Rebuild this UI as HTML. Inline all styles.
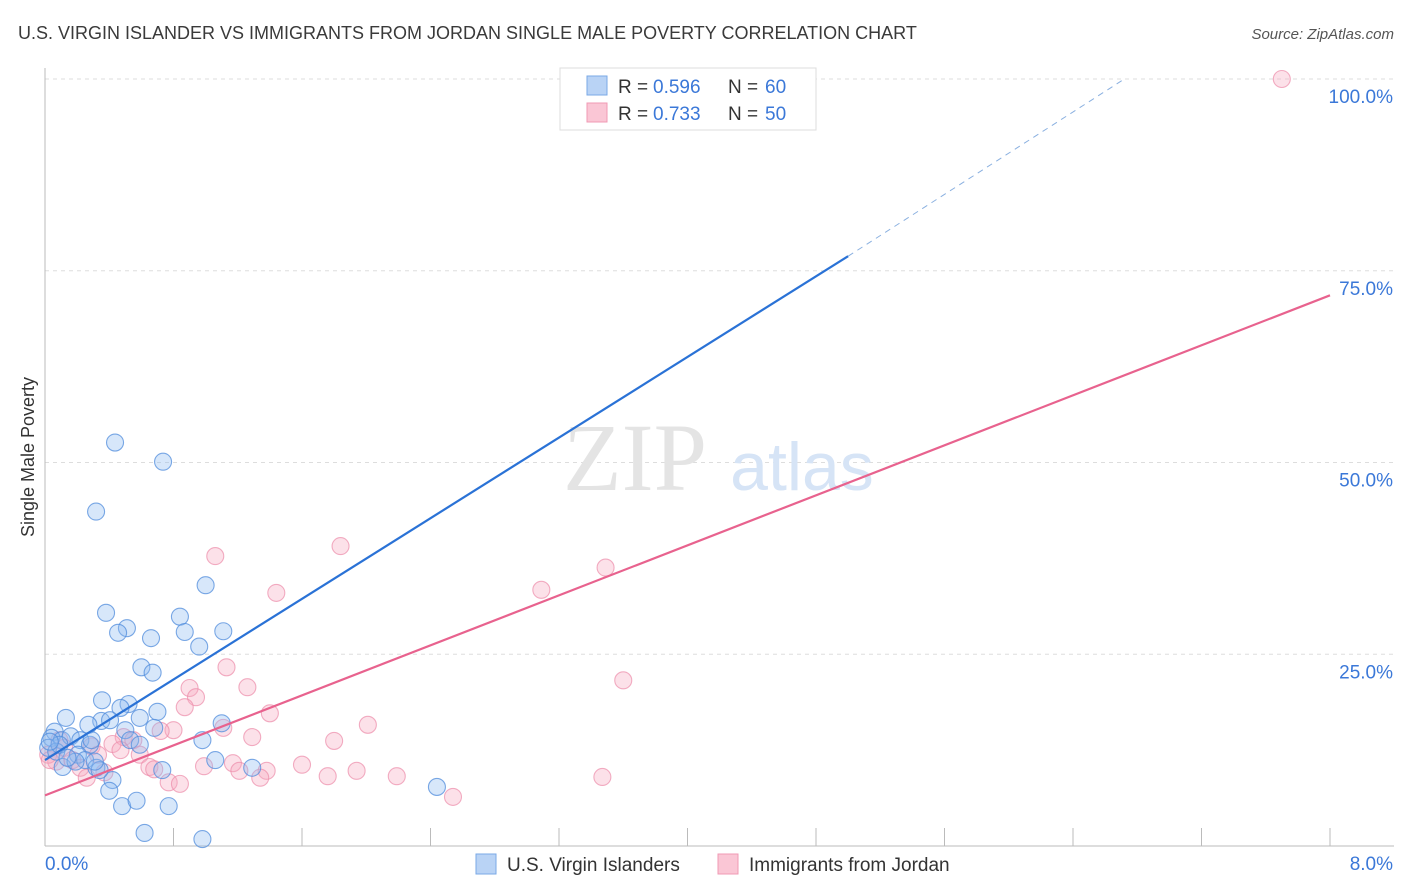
<!DOCTYPE html>
<html><head><meta charset="utf-8">
<style>
body{margin:0;background:#fff;font-family:"Liberation Sans",sans-serif;}
#wrap{position:relative;width:1406px;height:892px;overflow:hidden;}
</style></head>
<body>
<div id="wrap">
<svg id="svg" width="1406" height="892" xmlns="http://www.w3.org/2000/svg">
<text x="18" y="39" font-size="18" fill="#3a3a3a">U.S. VIRGIN ISLANDER VS IMMIGRANTS FROM JORDAN SINGLE MALE POVERTY CORRELATION CHART</text>
<text x="1394" y="39" font-size="15" fill="#555" font-style="italic" text-anchor="end">Source: ZipAtlas.com</text>
<text x="34" y="457" font-size="18" fill="#333" text-anchor="middle" transform="rotate(-90 34 457)">Single Male Poverty</text>
<g id="grid"></g>
<text x="635" y="490" font-size="96" fill="#e4e4e4" font-family="Liberation Serif,serif" text-anchor="middle">ZIP</text>
<text x="802" y="490" font-size="68" fill="#d6e4f6" text-anchor="middle">atlas</text>
<g id="marks"></g>
<g>
<rect x="560" y="68" width="256" height="62" fill="#fff" stroke="#ddd"/>
<rect x="587" y="76" width="20" height="19" fill="#b9d3f5" stroke="#7aa8e6"/>
<text x="618" y="93" font-size="19" fill="#333">R = </text>
<text x="653" y="93" font-size="19" fill="#3b78d8">0.596</text>
<text x="728" y="93" font-size="19" fill="#333">N = </text>
<text x="765" y="93" font-size="19" fill="#3b78d8">60</text>
<rect x="587" y="103" width="20" height="19" fill="#fac6d5" stroke="#f09ab4"/>
<text x="618" y="120" font-size="19" fill="#333">R = </text>
<text x="653" y="120" font-size="19" fill="#3b78d8">0.733</text>
<text x="728" y="120" font-size="19" fill="#333">N = </text>
<text x="765" y="120" font-size="19" fill="#3b78d8">50</text>
</g>
<g>
<rect x="476" y="854" width="20" height="20" fill="#b9d3f5" stroke="#7aa8e6"/>
<text x="507" y="871" font-size="19" fill="#333">U.S. Virgin Islanders</text>
<rect x="718" y="854" width="20" height="20" fill="#fac6d5" stroke="#f09ab4"/>
<text x="749" y="871" font-size="19" fill="#333">Immigrants from Jordan</text>
</g>
<text x="45" y="870" font-size="19" fill="#3b78d8">0.0%</text>
<text x="1393" y="870" font-size="19" fill="#3b78d8" text-anchor="end">8.0%</text>
</svg>
</div>
<script>
const yTicks=[25,50,75,100];
const yTickLabels=["25.0%","50.0%","75.0%","100.0%"];
const xTicks=[0,0.8,1.6,2.4,3.2,4.0,4.8,5.6,6.4,7.2,8.0];
const blueX=[0.436,0.735,0.318,1.00,0.38,0.84,0.51,0.455,0.87,1.11,0.66,0.96,0.60,0.67,0.355,0.52,0.47,0.70,0.13,0.35,0.405,0.59,0.27,1.10,0.06,0.04,0.105,0.16,0.22,0.28,0.50,0.68,0.98,0.02,0.205,0.25,0.11,0.32,0.42,0.40,0.73,1.06,1.29,2.44,0.48,0.57,0.77,0.62,0.98,4.59,0.07,0.29,0.34,0.19,0.53,0.09,0.31,0.14,0.59,0.03];
const blueY=[52.6,50.1,43.6,34.0,30.4,29.9,28.4,27.8,27.9,28.0,27.1,26.0,23.3,22.6,19.0,18.5,18.0,17.5,16.7,16.3,16.4,16.7,15.8,16.0,14.9,14.1,13.8,14.3,13.8,13.2,15.1,15.4,13.8,12.8,11.9,11.2,10.3,10.2,8.6,7.2,9.9,11.2,10.2,7.7,5.2,5.9,5.2,1.7,0.9,100,12.3,13.8,9.9,11.0,13.8,13.2,11.0,11.5,13.2,13.6];
const pinkX=[7.70,1.84,1.06,3.49,3.09,1.44,1.13,3.60,1.26,0.90,0.94,0.87,1.40,2.01,1.11,0.80,0.72,1.29,1.80,0.49,0.55,0.42,0.29,0.59,0.33,0.65,0.68,0.99,1.17,1.21,1.38,1.60,1.94,1.76,2.19,3.47,1.34,0.77,0.84,2.54,0.22,0.07,0.02,0.12,0.37,0.17,0.09,0.26,0.47,0.03];
const pinkY=[100,39.1,37.8,36.3,33.4,33.0,23.3,21.6,20.7,20.6,19.4,18.1,17.3,15.8,15.4,15.1,15.0,14.2,13.7,14.2,13.8,13.3,13.0,11.9,11.9,10.3,10.0,10.4,10.8,9.8,9.8,10.6,9.8,9.1,9.1,9.0,8.9,8.3,8.1,6.4,10.2,11.0,11.9,12.8,9.6,11.2,13.8,8.9,12.5,11.2];
const blueFitX=[0,5.0,6.72];
const blueFitY=[11.2,76.9,100];
const pinkFitX=[0,8.0];
const pinkFitY=[6.6,71.8];

const X=v=>45+v*1285/8;
const Y=v=>846-v*7.67;
const NS="http://www.w3.org/2000/svg";
function mk(tag,attrs,parent){const e=document.createElementNS(NS,tag);for(const k in attrs)e.setAttribute(k,attrs[k]);parent.appendChild(e);return e;}
const grid=document.getElementById('grid'), marks=document.getElementById('marks');
yTicks.forEach((t,i)=>{
  const l=mk('line',{x1:45,x2:1394,y1:Y(t),y2:Y(t),stroke:'#ddd','stroke-dasharray':'4,4'},grid);
  
  
  const tx=mk('text',{x:1393,y:Y(t)+24,'font-size':19,fill:'#3b78d8','text-anchor':'end'},grid);
  tx.textContent=yTickLabels[i];
  
  
});
const ax=mk('line',{x1:45,x2:45,y1:68,y2:846,stroke:'#bbb'},grid);


const bx=mk('line',{x1:45,x2:1394,y1:846,y2:846,stroke:'#bbb'},grid);


xTicks.forEach(t=>{
  const l=mk('line',{x1:X(t),x2:X(t),y1:828,y2:846,stroke:'#bbb'},grid);
  
  
});
function pts(xs,ys,fill,stroke,name){
  xs.forEach((x,i)=>{
    const c=mk('circle',{cx:X(x),cy:Y(ys[i]),r:8.5,fill:fill,stroke:stroke,'stroke-width':1.1},marks);
    
    
  });
}
pts(pinkX,pinkY,'rgba(246,170,193,0.35)','rgba(236,140,170,0.7)','jordan-point');
pts(blueX,blueY,'rgba(140,185,240,0.35)','rgba(80,140,220,0.75)','virgin-islander-point');
const bl=mk('line',{x1:X(blueFitX[0]),y1:Y(blueFitY[0]),x2:X(blueFitX[1]),y2:Y(blueFitY[1]),stroke:'#2a72d6','stroke-width':2.2},marks);


const bd=mk('line',{x1:X(blueFitX[1]),y1:Y(blueFitY[1]),x2:X(blueFitX[2]),y2:Y(blueFitY[2]),stroke:'#8ab0e0','stroke-width':1,'stroke-dasharray':'6,5'},marks);


const pl=mk('line',{x1:X(pinkFitX[0]),y1:Y(pinkFitY[0]),x2:X(pinkFitX[1]),y2:Y(pinkFitY[1]),stroke:'#e8628e','stroke-width':2.2},marks);


</script>
</body></html>
